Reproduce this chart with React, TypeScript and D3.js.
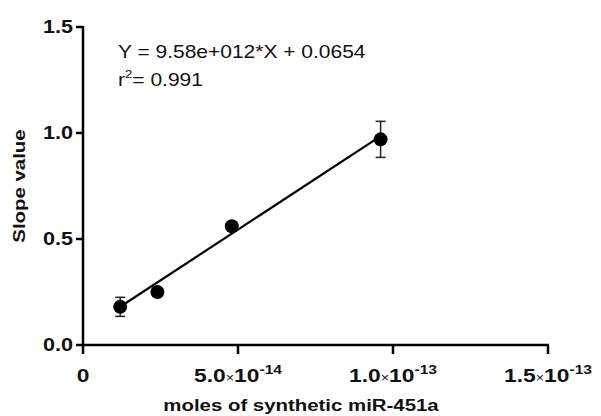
import React from 'react';
import * as d3 from 'd3';

// data
const xValues = [1.2e-14, 2.4e-14, 4.8e-14, 9.6e-14];
const yValues = [0.18, 0.25, 0.56, 0.97];
const yErrors = [0.045, 0.0, 0.0, 0.085];
const slope = 9.58e12;
const intercept = 0.0654;
const xTicks = [0, 5e-14, 1e-13, 1.5e-13];
const xTickLabels = [['0', ''], ['5.0', '-14'], ['1.0', '-13'], ['1.5', '-13']];
const yTicks = [0, 0.5, 1.0, 1.5];

const width = 601;
const height = 416;
const stretch = 1.2; // the original lettering is noticeably wide

// text drawn at (x, y) and widened along its own direction
const Wide = ({ x, y, rotate = 0, children, ...rest }: any) => (
  <g transform={`translate(${x},${y}) rotate(${rotate}) scale(${stretch},1)`}>
    <text x={0} y={0} {...rest}>{children}</text>
  </g>
);

const App = () => {
  const x = d3.scaleLinear().domain([0, 1.5e-13]).range([83, 548]);
  const y = d3.scaleLinear().domain([0, 1.5]).range([345, 27]);

  const fitX = d3.extent(xValues) as [number, number];
  const line = d3.line<number>()
    .x(d => x(d))
    .y(d => y(slope * d + intercept));

  const font = 'Arial, "Liberation Sans", sans-serif';

  return (
    <div style={{ position: 'absolute', left: 0, top: 0 }}>
      <svg width={width} height={height} style={{ display: 'block', background: '#fff' }} fontFamily={font} fill="#111">
        {/* fit line */}
        <path d={line(fitX) || ''} stroke="#000" strokeWidth={2.2} fill="none" />

        {/* error bars */}
        {xValues.map((xv, i) => yErrors[i] > 0 && (
          <g key={'e' + i} stroke="#222" strokeWidth={1.5}>
            <line x1={x(xv)} x2={x(xv)} y1={y(yValues[i] - yErrors[i])} y2={y(yValues[i] + yErrors[i])} />
            <line x1={x(xv) - 5} x2={x(xv) + 5} y1={y(yValues[i] - yErrors[i])} y2={y(yValues[i] - yErrors[i])} />
            <line x1={x(xv) - 5} x2={x(xv) + 5} y1={y(yValues[i] + yErrors[i])} y2={y(yValues[i] + yErrors[i])} />
          </g>
        ))}

        {/* points */}
        {xValues.map((xv, i) => (
          <circle key={'p' + i} cx={x(xv)} cy={y(yValues[i])} r={7} fill="#000" />
        ))}

        {/* axes */}
        <line x1={x(0)} x2={x(0)} y1={y(1.5) - 1} y2={y(0) + 1} stroke="#000" strokeWidth={2.5} />
        <line x1={x(0) - 1} x2={x(1.5e-13) + 1} y1={y(0)} y2={y(0)} stroke="#000" strokeWidth={2.5} />

        {yTicks.map(t => (
          <g key={'yt' + t}>
            <line x1={x(0) - 7} x2={x(0)} y1={y(t)} y2={y(t)} stroke="#000" strokeWidth={2.5} />
            <Wide x={x(0) - 10} y={y(t)} dy="0.36em" textAnchor="end" fontSize={18} fontWeight="bold">
              {t.toFixed(1)}
            </Wide>
          </g>
        ))}

        {xTicks.map((t, i) => (
          <g key={'xt' + t}>
            <line x1={x(t)} x2={x(t)} y1={y(0)} y2={y(0) + 9} stroke="#000" strokeWidth={2.5} />
            <Wide x={x(t)} y={y(0) + 37} textAnchor="middle" fontSize={19} fontWeight="bold">
              {xTickLabels[i][1] === '' ? xTickLabels[i][0] : (
                <>
                  {xTickLabels[i][0]}
                  <tspan fontSize={12} fontWeight="normal">×</tspan>
                  10
                  <tspan fontSize={13} dy={-8}>{xTickLabels[i][1]}</tspan>
                </>
              )}
            </Wide>
          </g>
        ))}

        {/* axis titles */}
        <Wide x={301} y={411} textAnchor="middle" fontSize={17} fontWeight="bold">
          moles of synthetic miR-451a
        </Wide>
        <Wide x={25} y={186} rotate={-90} textAnchor="middle" fontSize={17} fontWeight="bold">
          Slope value
        </Wide>

        {/* equation */}
        <Wide x={118} y={58} fontSize={17.5}>Y = 9.58e+012*X + 0.0654</Wide>
        <Wide x={118} y={86} fontSize={17.5}>
          r<tspan fontSize={11} dy={-8}>2</tspan><tspan dy={8}>= 0.991</tspan>
        </Wide>
      </svg>
    </div>
  );
};

export default App;
